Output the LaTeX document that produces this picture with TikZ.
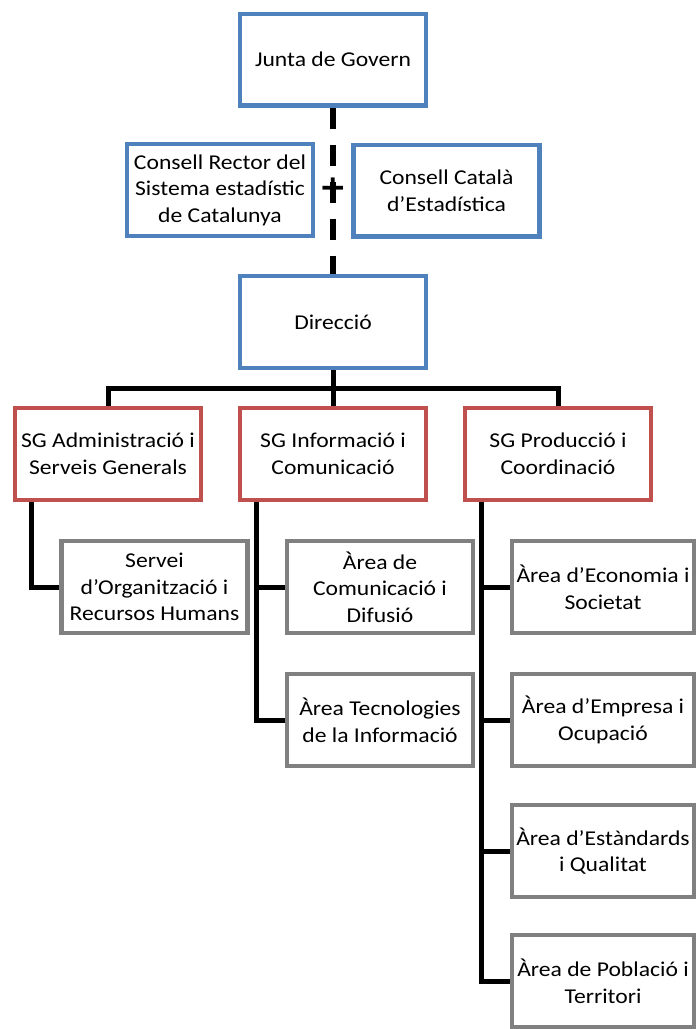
\documentclass[tikz,border=0pt]{standalone}
\usepackage{fontspec}
\setmainfont{Carlito}[FakeStretch=1.12]
\newfontfamily\plusfont{DejaVu Sans}
\usepackage{xcolor}
\definecolor{board-blue}{RGB}{79,129,189}
\definecolor{unit-red}{RGB}{192,80,77}
\definecolor{area-gray}{RGB}{128,128,128}
\definecolor{link-dark}{RGB}{0,0,0}
\usepackage{tikz}
\usetikzlibrary{positioning,calc,backgrounds}

\begin{document}
\begin{tikzpicture}[
  x=0.03cm, y=-0.03cm,
  orgbox/.style={
    draw, line width=0.13cm, fill=white, inner sep=0pt, align=center,
    minimum width=5.57cm, minimum height=2.75cm,
    font=\fontsize{18}{22.7}\selectfont
  },
  govbox/.style={orgbox, draw=board-blue},
  sgbox/.style={orgbox, draw=unit-red},
  areabox/.style={orgbox, draw=area-gray},
  narrowbox/.style={areabox, minimum width=5.45cm},
  link/.style={line width=0.15cm, draw=link-dark},
  dashlink/.style={line width=0.18cm, draw=link-dark, dash pattern=on 0.63cm off 0.48cm}
]

\useasboundingbox (0,0) rectangle (696,1029);

% Governing bodies
\node[govbox] (junta) at (333,59.5) {Junta de Govern};
\node[govbox] (rector) at (220,190) {Consell Rector del\\Sistema estadístic\\de Catalunya};
\node[govbox] (catala) at (446.5,190.5) {Consell Català\\d’Estadística};
\node[font=\plusfont\bfseries\fontsize{28}{28}\selectfont, inner sep=0pt] (plus) at (333,188) {+};
\node[govbox] (direccio) at (333,322) {Direcció};

% General sub-directorates
\node[sgbox] (sgadm) at (108,454) {SG Administració i\\Serveis Generals};
\node[sgbox] (sginf) at (333,454) {SG Informació i\\Comunicació};
\node[sgbox] (sgprod) at (558,454) {SG Producció i\\Coordinació};

% Services and areas
\node[areabox] (servei) at (154.5,587) {Servei\\d’Organització i\\Recursos Humans};
\node[areabox] (acom) at (380,587) {Àrea de\\Comunicació i\\Difusió};
\node[areabox] (atec) at (380,720) {Àrea Tecnologies\\de la Informació};
\node[narrowbox] (aeco) at (603,587) {Àrea d’Economia i\\Societat};
\node[narrowbox] (aemp) at (603,720) {Àrea d’Empresa i\\Ocupació};
\node[narrowbox] (aest) at (603,851) {Àrea d’Estàndards\\i Qualitat};
\node[narrowbox] (apob) at (603,981) {Àrea de Població i\\Territori};

% Connectors
\coordinate (bar) at (333,388);
\coordinate (admstem) at ([xshift=0.55cm]sgadm.south west);
\coordinate (infstem) at ([xshift=0.55cm]sginf.south west);
\coordinate (prodstem) at ([xshift=0.55cm]sgprod.south west);

\begin{scope}[on background layer]
  \draw[dashlink] (junta.south) -- (direccio.north);
  \draw[link] (direccio.south) -- (sginf.north);
  \draw[link] (sgadm.north) |- (bar) -| (sgprod.north);
  \draw[link] (admstem) |- (servei.west);
  \draw[link] (infstem) |- (atec.west);
  \draw[link] (infstem |- acom.west) -- (acom.west);
  \draw[link] (prodstem) |- (apob.west);
  \foreach \a in {aeco,aemp,aest}
    \draw[link] (prodstem |- \a.west) -- (\a.west);
\end{scope}

\end{tikzpicture}
\end{document}
